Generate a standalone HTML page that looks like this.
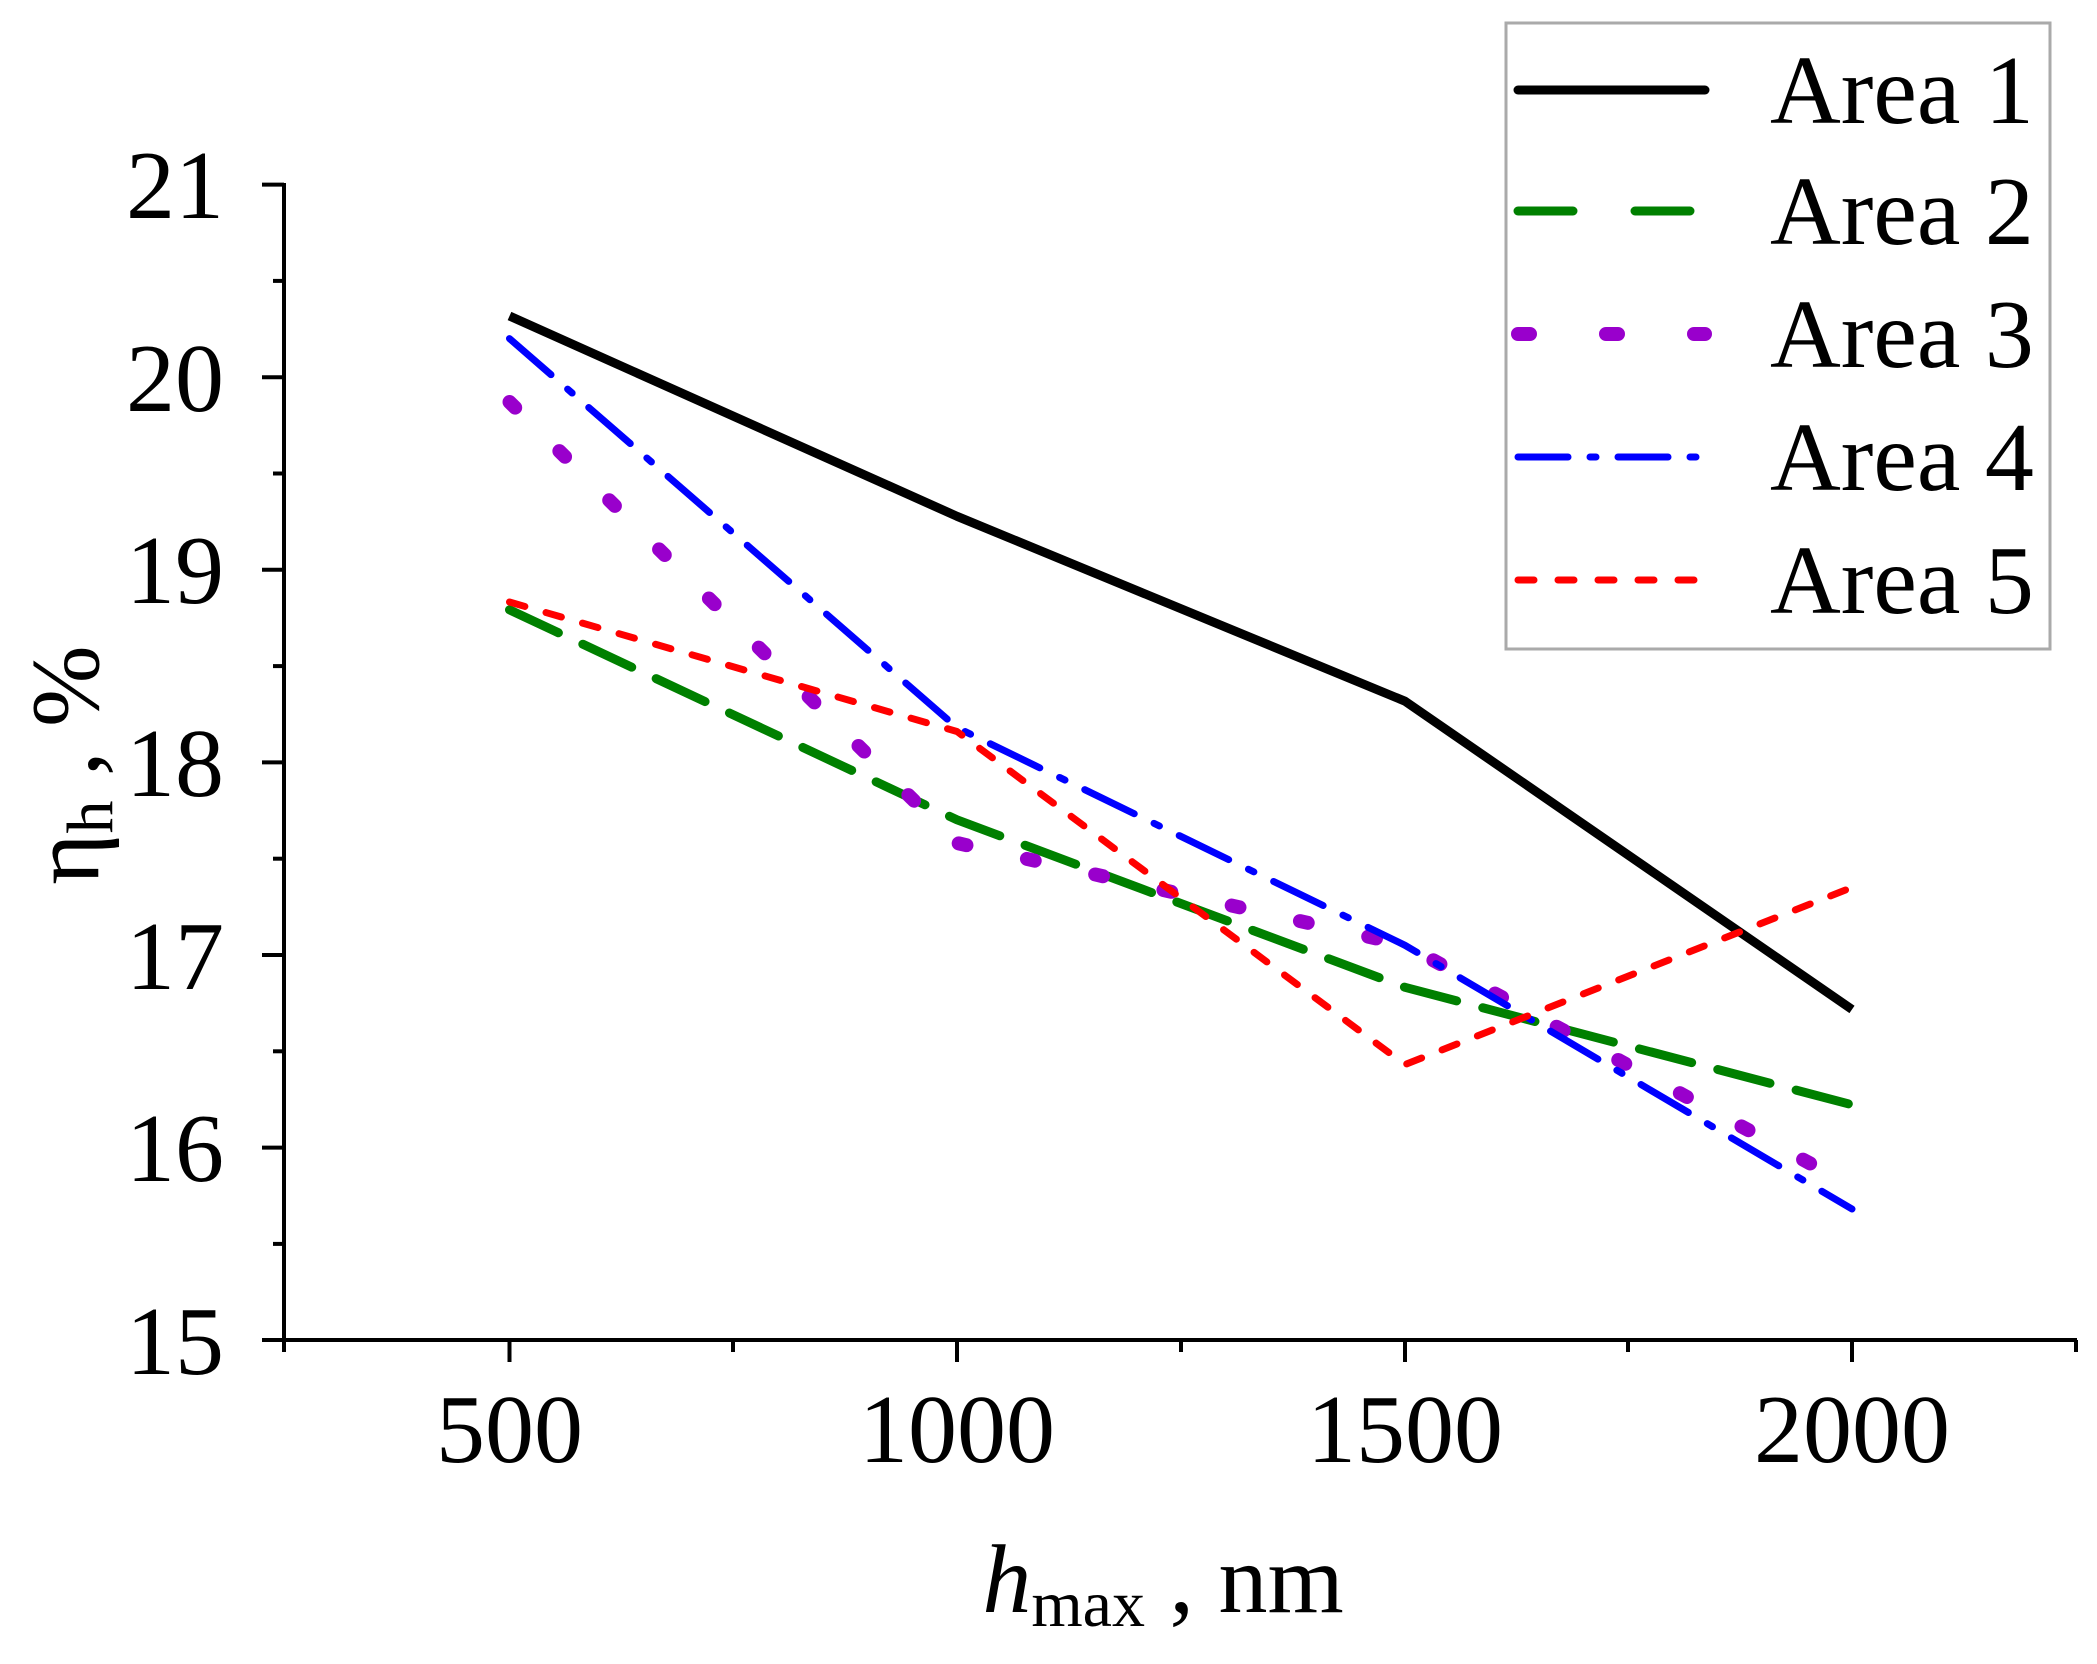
<!DOCTYPE html>
<html><head><meta charset="utf-8"><style>html,body{margin:0;padding:0;background:#fff}</style></head>
<body>
<svg width="2097" height="1659" viewBox="0 0 2097 1659" xmlns="http://www.w3.org/2000/svg" font-family="Liberation Serif, serif">
<rect width="2097" height="1659" fill="#fff"/>
<g stroke="#000" stroke-width="4" fill="none">
<line x1="284" y1="183" x2="284" y2="1342"/>
<line x1="282" y1="1340" x2="2077" y2="1340"/>
<line x1="262" y1="184.6" x2="284" y2="184.6"/><line x1="273" y1="280.9" x2="284" y2="280.9"/>
<line x1="262" y1="377.2" x2="284" y2="377.2"/><line x1="273" y1="473.5" x2="284" y2="473.5"/>
<line x1="262" y1="569.8" x2="284" y2="569.8"/><line x1="273" y1="666.1" x2="284" y2="666.1"/>
<line x1="262" y1="762.4" x2="284" y2="762.4"/><line x1="273" y1="858.7" x2="284" y2="858.7"/>
<line x1="262" y1="955" x2="284" y2="955"/><line x1="273" y1="1051.3" x2="284" y2="1051.3"/>
<line x1="262" y1="1147.6" x2="284" y2="1147.6"/><line x1="273" y1="1243.9" x2="284" y2="1243.9"/>
<line x1="262" y1="1340" x2="284" y2="1340"/>
<line x1="284" y1="1340" x2="284" y2="1352"/>
<line x1="509.5" y1="1340" x2="509.5" y2="1362"/>
<line x1="733" y1="1340" x2="733" y2="1352"/>
<line x1="957" y1="1340" x2="957" y2="1362"/>
<line x1="1181" y1="1340" x2="1181" y2="1352"/>
<line x1="1405" y1="1340" x2="1405" y2="1362"/>
<line x1="1628" y1="1340" x2="1628" y2="1352"/>
<line x1="1852" y1="1340" x2="1852" y2="1362"/>
<line x1="2076" y1="1340" x2="2076" y2="1352"/>
</g>
<g font-size="98" fill="#000" text-anchor="end">
<text x="224" y="218">21</text><text x="224" y="411">20</text><text x="224" y="603">19</text>
<text x="224" y="796">18</text><text x="224" y="989">17</text><text x="224" y="1181">16</text><text x="224" y="1374">15</text>
</g>
<g font-size="98" fill="#000" text-anchor="middle">
<text x="509.5" y="1462">500</text><text x="957" y="1462">1000</text><text x="1405" y="1462">1500</text><text x="1852" y="1462">2000</text>
</g>
<text x="1163" y="1612" font-size="98" text-anchor="middle" fill="#000"><tspan font-style="italic">h</tspan><tspan font-size="66" dy="14">max</tspan><tspan dy="-14"> , nm</tspan></text>
<text transform="translate(98,765) rotate(-90)" font-size="98" text-anchor="middle" fill="#000">η<tspan font-size="66" dy="14">h</tspan><tspan dy="-14"> , %</tspan></text>
<g fill="none" stroke-linejoin="round">
<polyline stroke="#000" stroke-width="9" points="509.5,316 957,516.3 1405,701.2 1852,1009.4"/>
<polyline stroke="#008000" stroke-width="9" stroke-dasharray="54,27" stroke-linecap="round" points="509.5,609.8 957,819.8 1405,987.3 1852,1104.8"/>
<polyline stroke="#9900cc" stroke-width="14" stroke-dasharray="8,62" stroke-linecap="round" points="509.5,402 957,843 1405,945 1852,1186"/>
<polyline stroke="#0000ff" stroke-width="7" stroke-dasharray="55,22,6,22" stroke-linecap="round" points="509.5,338.6 957,727.6 1405,945.3 1852,1209"/>
<polyline stroke="#ff0000" stroke-width="7" stroke-dasharray="16,22" stroke-linecap="round" points="509.5,602 957,731.5 1405,1064.6 1852,887.4"/>
</g>
<rect x="1506" y="23" width="544" height="626" fill="#fff" stroke="#aaa" stroke-width="3"/>
<g fill="none" stroke-linecap="round">
<line x1="1518" y1="90" x2="1705" y2="90" stroke="#000" stroke-width="9"/>
<line x1="1518" y1="211" x2="1705" y2="211" stroke="#008000" stroke-width="9" stroke-dasharray="55,62"/>
<line x1="1518" y1="334" x2="1705" y2="334" stroke="#9900cc" stroke-width="14" stroke-dasharray="12,76"/>
<line x1="1518" y1="457" x2="1705" y2="457" stroke="#0000ff" stroke-width="7" stroke-dasharray="50,22,6,22"/>
<line x1="1518" y1="580" x2="1705" y2="580" stroke="#ff0000" stroke-width="7" stroke-dasharray="16,24"/>
</g>
<g font-size="98" fill="#000">
<text x="1770" y="123">Area 1</text><text x="1770" y="244">Area 2</text><text x="1770" y="367">Area 3</text>
<text x="1770" y="490">Area 4</text><text x="1770" y="613">Area 5</text>
</g>
</svg>
</body></html>
